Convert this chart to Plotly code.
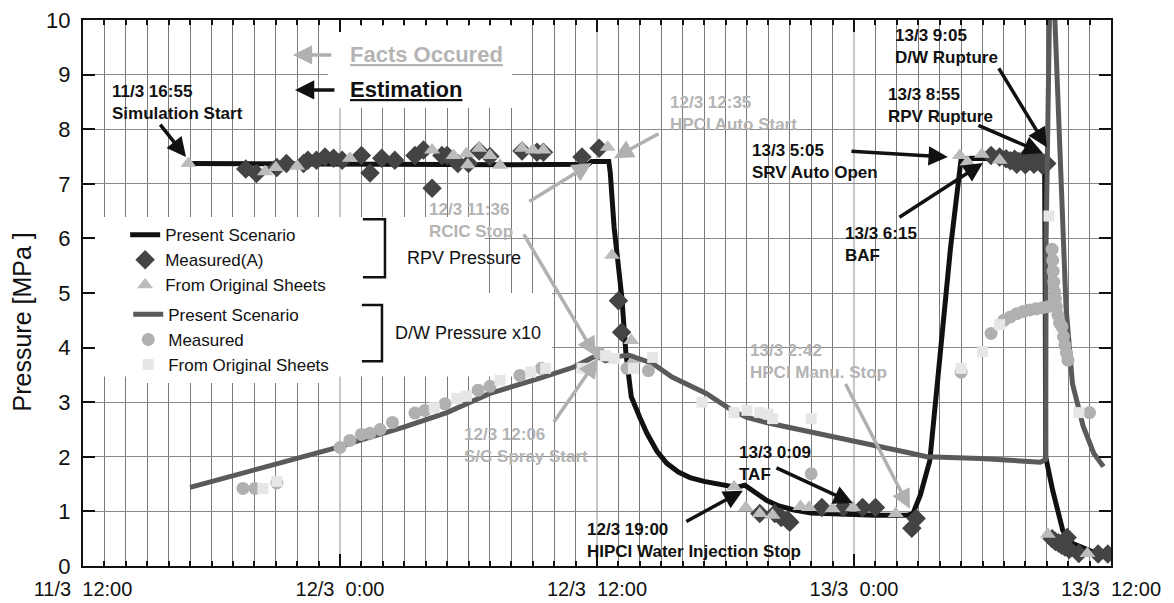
import plotly.graph_objects as go

# Time axis: hours elapsed since 11/3 12:00
tick_hours = [0, 12, 24, 36, 48]
tick_labels = ["11/3\u00a0\u00a012:00", "12/3\u00a0\u00a00:00", "12/3\u00a0\u00a012:00",
               "13/3\u00a0\u00a00:00", "13/3\u00a0\u00a012:00"]

# RPV pressure - present scenario (MPa)
rpv_sim_t = [4.92, 10.0, 20.0, 23.6, 23.75, 24.55, 24.62, 24.8, 25.16, 25.35, 25.6, 26.0, 26.33,
             26.8, 27.26, 27.8, 28.34, 29.0, 29.6, 30.53, 30.9, 31.4, 31.93, 32.5, 33.15, 34.0,
             35.0, 36.0, 37.0, 38.0, 38.5, 38.75, 39.1, 39.54, 40.0, 40.5, 41.0, 41.5, 42.5,
             44.0, 44.9, 44.93, 44.95, 45.28, 45.75, 46.22, 47.34, 48.0]
rpv_sim_p = [7.37, 7.36, 7.35, 7.36, 7.41, 7.41, 7.2, 6.2, 4.92, 3.9, 3.1, 2.72, 2.43,
             2.1, 1.88, 1.72, 1.62, 1.55, 1.51, 1.44, 1.48, 1.35, 1.2, 1.1, 1.03, 0.97,
             0.95, 0.94, 0.93, 0.93, 0.93, 0.96, 1.3, 1.93, 3.85, 5.8, 7.45, 7.47, 7.46,
             7.43, 7.4, 5.0, 2.0, 1.38, 0.65, 0.41, 0.23, 0.17]

# RPV pressure - measured (A)
rpv_meas_t = [7.6, 8.1, 9.05, 9.5, 10.3, 10.5, 10.9, 11.3, 11.7, 12.1, 13.0, 13.4, 13.95, 14.56,
              15.5, 15.9, 16.3, 16.76, 17.0, 17.5, 18.0, 18.5, 19.0, 20.5, 21.2, 21.5, 23.3,
              24.1, 25.0, 25.15, 31.6, 32.3, 32.6, 32.9, 33.0, 34.5, 35.5, 36.4, 37.0, 38.9,
              38.7, 42.4, 42.8, 43.1, 43.3, 43.5, 43.7, 43.9, 44.1, 44.3, 44.5, 44.7, 44.85,
              45.0, 43.6, 44.0, 44.4, 44.8, 45.25, 45.4, 45.55, 45.7, 45.85, 45.95, 46.05,
              46.5, 47.4, 47.85]
rpv_meas_p = [7.27, 7.19, 7.3, 7.37, 7.37, 7.43, 7.43, 7.49, 7.47, 7.43, 7.52, 7.2, 7.47, 7.43,
              7.52, 7.62, 6.92, 7.52, 7.52, 7.37, 7.37, 7.6, 7.5, 7.6, 7.58, 7.58, 7.49,
              7.65, 4.86, 4.28, 0.96, 0.96, 0.89, 0.84, 0.8, 1.07, 1.07, 1.07, 1.07, 0.87,
              0.69, 7.52, 7.49, 7.46, 7.42, 7.45, 7.41, 7.44, 7.41, 7.43, 7.4, 7.42, 7.38,
              7.37, 7.36, 7.35, 7.36, 7.34, 0.5, 0.45, 0.42, 0.38, 0.35, 0.52, 0.3,
              0.23, 0.22, 0.22]

# RPV pressure - from original sheets
rpv_sheet_t = [4.92, 8.5, 9.0, 10.0, 12.46, 16.3, 17.3, 17.9, 17.97, 18.5, 19.0, 19.47, 20.5,
               21.0, 21.5, 24.5, 24.7, 25.6, 25.7, 30.4, 30.95, 31.6, 32.2, 33.5, 33.9, 35.0,
               35.95, 37.95, 40.94, 41.3, 41.97, 42.8, 45.05, 46.9]
rpv_sheet_p = [7.37, 7.22, 7.3, 7.32, 7.47, 7.62, 7.52, 7.55, 7.35, 7.65, 7.52, 7.34, 7.65,
               7.62, 7.62, 7.67, 5.69, 4.13, 3.77, 1.45, 1.07, 0.96, 0.93, 1.09, 1.07, 1.05,
               1.07, 0.96, 7.52, 7.4, 7.54, 7.43, 0.58, 0.23]

# D/W pressure x10 - present scenario
dw_sim_t = [5.0, 8.0, 11.67, 13.07, 14.94, 16.99, 19.0, 21.34, 22.9, 23.8, 24.0, 24.4, 25.0,
            25.5, 26.0, 26.6, 27.5, 28.3, 29.1, 30.3, 31.0, 32.0, 33.0, 35.0, 37.0, 38.5,
            39.4, 40.0, 41.9, 44.7, 44.95, 44.97, 45.2, 45.38, 45.6, 45.9, 46.2, 46.7, 47.2,
            47.65]
dw_sim_p = [1.44, 1.75, 2.15, 2.32, 2.54, 2.81, 3.16, 3.44, 3.64, 3.82, 3.84, 3.76, 3.84,
            3.86, 3.8, 3.71, 3.46, 3.3, 3.16, 2.85, 2.72, 2.62, 2.54, 2.38, 2.22, 2.08,
            2.0, 1.99, 1.97, 1.9, 1.95, 6.0, 12.0, 10.0, 7.56, 4.74, 3.34, 2.56, 2.06,
            1.82]

# D/W pressure x10 - measured
dw_meas_t = [7.47, 8.03, 9.05, 12.0, 12.46, 13.0, 13.4, 13.87, 14.45, 15.5, 15.97, 16.9, 18.45,
             19.0, 20.4, 21.4, 24.1, 25.4, 26.4, 34.0, 41.0, 42.4, 43.0, 43.3, 43.6, 43.9,
             44.2, 44.5, 44.8, 45.05, 45.25, 45.28, 45.3, 45.33, 45.36, 45.4, 45.45, 45.52,
             45.6, 45.71, 45.78, 45.85, 45.92, 45.99, 47.0]
dw_meas_p = [1.42, 1.42, 1.52, 2.17, 2.3, 2.41, 2.43, 2.5, 2.63, 2.8, 2.85, 2.97, 3.22,
             3.29, 3.49, 3.62, 3.9, 3.62, 3.58, 1.69, 3.55, 4.26, 4.5, 4.56, 4.62, 4.66,
             4.69, 4.71, 4.73, 4.75, 5.8, 5.6, 5.4, 5.2, 5.03, 4.9, 4.75, 4.6, 4.45,
             4.38, 4.2, 4.04, 3.9, 3.77, 2.81]

# D/W pressure x10 - from original sheets
dw_sheet_t = [8.4, 9.05, 16.4, 17.46, 17.9, 19.47, 20.9, 21.6, 23.3, 24.4, 24.8, 25.7, 26.6,
              28.9, 30.4, 31.0, 31.6, 32.0, 32.2, 34.0, 41.0, 42.0, 42.8, 45.1, 46.5]
dw_sheet_p = [1.42, 1.55, 2.9, 3.07, 3.11, 3.4, 3.55, 3.62, 3.62, 3.85, 3.8, 3.62, 3.82,
              3.0, 2.81, 2.85, 2.81, 2.78, 2.7, 2.7, 3.62, 3.93, 4.42, 6.41, 2.81]

FONT = "Liberation Sans, Arial, sans-serif"
BLACK = "#111111"
GRAY_TXT = "#b4b4b4"

fig = go.Figure()
fig.add_trace(go.Scatter(x=rpv_sim_t, y=rpv_sim_p, mode="lines", name="Present Scenario",
                         line=dict(color=BLACK, width=5), legend="legend"))
fig.add_trace(go.Scatter(x=rpv_meas_t, y=rpv_meas_p, mode="markers", name="Measured(A)",
                         marker=dict(symbol="diamond", size=15, color="#444444"), legend="legend"))
fig.add_trace(go.Scatter(x=rpv_sheet_t, y=rpv_sheet_p, mode="markers", name="From Original Sheets",
                         marker=dict(symbol="triangle-up", size=14, color="#bcbcbc"), legend="legend"))
fig.add_trace(go.Scatter(x=dw_sim_t, y=dw_sim_p, mode="lines", name="Present Scenario",
                         line=dict(color="#5a5a5a", width=5), legend="legend2"))
fig.add_trace(go.Scatter(x=dw_meas_t, y=dw_meas_p, mode="markers", name="Measured",
                         marker=dict(symbol="circle", size=13, color="#b0b0b0"), legend="legend2"))
fig.add_trace(go.Scatter(x=dw_sheet_t, y=dw_sheet_p, mode="markers", name="From Original Sheets",
                         marker=dict(symbol="square", size=11, color="#e6e6e6"), legend="legend2"))

# White panels behind the keys
panels = [(0, 18.77, 5.0, 6.39), (0, 21.9, 3.47, 5.0), (11.44, 20.03, 8.39, 9.89)]
shapes = []
for x0, x1, y0, y1 in panels:
    shapes.append(dict(type="rect", xref="x", yref="y", x0=x0, x1=x1, y0=y0, y1=y1,
                       fillcolor="white", line=dict(width=0), layer="between"))
# brackets
shapes.append(dict(type="path", xref="x", yref="y", path="M 13.07,6.35 L 14.1,6.35 L 14.1,5.29 L 13.07,5.29",
                   line=dict(color=BLACK, width=2.5)))
shapes.append(dict(type="path", xref="x", yref="y", path="M 13.02,4.78 L 13.96,4.78 L 13.96,3.75 L 13.02,3.75",
                   line=dict(color=BLACK, width=2.5)))

annotations = []
# text labels: (t, p, text, color, size)
labels = [
    (1.26, 8.48, "<b>11/3 16:55<br>Simulation Start</b>", BLACK, 17),
    (12.37, 9.36, "<b><u>Facts Occured</u></b>", GRAY_TXT, 22),
    (12.37, 8.72, "<b><u>Estimation</u></b>", BLACK, 22),
    (27.31, 8.28, "<b>12/3 12:35<br>HPCI Auto Start</b>", GRAY_TXT, 17),
    (16.06, 6.33, "<b>12/3 11:36<br>RCIC Stop</b>", GRAY_TXT, 17),
    (17.69, 2.21, "<b>12/3 12:06<br>S/C Spray Start</b>", GRAY_TXT, 17),
    (23.44, 0.47, "<b>12/3 19:00<br>HIPCI Water Injection Stop</b>", BLACK, 17),
    (30.53, 1.88, "<b>13/3 0:09<br>TAF</b>", BLACK, 17),
    (31.05, 3.74, "<b>13/3 2:42<br>HPCI Manu. Stop</b>", GRAY_TXT, 17),
    (31.13, 7.41, "<b>13/3 5:05<br>SRV Auto Open</b>", BLACK, 17),
    (35.48, 5.88, "<b>13/3 6:15<br>BAF</b>", BLACK, 17),
    (37.49, 8.44, "<b>13/3 8:55<br>RPV Rupture</b>", BLACK, 17),
    (37.82, 9.52, "<b>13/3 9:05<br>D/W Rupture</b>", BLACK, 17),
    (15.03, 5.64, "RPV Pressure", BLACK, 18),
    (14.47, 4.26, "D/W Pressure x10", BLACK, 18),
]
for t, p, txt, col, sz in labels:
    annotations.append(dict(x=t, y=p, xref="x", yref="y", text=txt, showarrow=False,
                            xanchor="left", yanchor="middle", align="left",
                            font=dict(family=FONT, size=sz, color=col)))

# arrows: (tail_t, tail_p, head_t, head_p, color)
arrows = [
    (3.55, 8.11, 4.81, 7.49, BLACK),
    (11.67, 9.36, 9.8, 9.36, "#b0b0b0"),
    (11.81, 8.72, 9.9, 8.72, BLACK),
    (26.94, 7.93, 24.79, 7.47, "#b0b0b0"),
    (20.77, 6.66, 23.75, 7.38, "#b0b0b0"),
    (20.54, 6.10, 23.95, 3.84, "#b0b0b0"),
    (21.94, 2.61, 24.04, 3.80, "#b0b0b0"),
    (28.10, 0.80, 30.81, 1.38, BLACK),
    (32.31, 1.81, 35.95, 1.15, BLACK),
    (35.57, 3.36, 38.61, 1.05, "#b0b0b0"),
    (35.81, 7.60, 40.38, 7.49, BLACK),
    (38.05, 6.37, 42.02, 7.38, BLACK),
    (41.74, 8.08, 44.82, 7.56, BLACK),
    (42.72, 9.14, 45.00, 7.67, BLACK),
]
for tt, tp, ht, hp, col in arrows:
    annotations.append(dict(x=ht, y=hp, ax=tt, ay=tp, xref="x", yref="y", axref="x", ayref="y",
                            text="", showarrow=True, arrowhead=2, arrowsize=1.1, arrowwidth=3.5,
                            arrowcolor=col))

# y-axis title
annotations.append(dict(xref="paper", yref="y", x=0, y=4.46, xshift=-61, text="Pressure [MPa ]",
                        textangle=-90, showarrow=False, xanchor="center", yanchor="middle",
                        font=dict(family=FONT, size=25, color=BLACK)))

# The page body adds an 8px margin, so the figure is sized to fit the window
fig.update_layout(
    width=1166, height=595,
    margin=dict(l=75, r=63, t=12, b=37, autoexpand=False),
    paper_bgcolor="white", plot_bgcolor="white",
    font=dict(family=FONT, color=BLACK),
    showlegend=True,
    legend=dict(x=0.041, y=0.639, xanchor="left", yanchor="top", bgcolor="white",
                font=dict(family=FONT, size=17, color=BLACK), tracegroupgap=0,
                borderwidth=0),
    legend2=dict(x=0.044, y=0.493, xanchor="left", yanchor="top", bgcolor="white",
                 font=dict(family=FONT, size=17, color=BLACK), tracegroupgap=0,
                 borderwidth=0),
    shapes=shapes,
    annotations=annotations,
)
fig.update_xaxes(
    range=[0, 48], tickmode="array", tickvals=tick_hours, ticktext=tick_labels,
    ticks="inside", ticklen=12, tickwidth=2, tickcolor=BLACK, automargin=False,
    showline=True, linewidth=2, linecolor=BLACK, mirror="ticks",
    showgrid=True, gridcolor="#c8c8c8", gridwidth=2, zeroline=False,
    tickfont=dict(family=FONT, size=20, color=BLACK), ticklabelstandoff=4,
    ticklabeloverflow="allow",
    minor=dict(tick0=0, dtick=1, ticks="inside", ticklen=5, tickwidth=2, tickcolor=BLACK,
               showgrid=True, gridcolor="#7a7a7a", gridwidth=1.3),
)
fig.update_yaxes(
    range=[0, 10], tickmode="linear", tick0=0, dtick=1, automargin=False,
    ticks="inside", ticklen=12, tickwidth=2, tickcolor=BLACK,
    showline=True, linewidth=2, linecolor=BLACK, mirror="ticks",
    showgrid=True, gridcolor="#8a8a8a", gridwidth=1.3, zeroline=False,
    tickfont=dict(family=FONT, size=22, color=BLACK), ticklabelstandoff=6,
    ticklabeloverflow="allow",
)

fig.write_html("out.html")
